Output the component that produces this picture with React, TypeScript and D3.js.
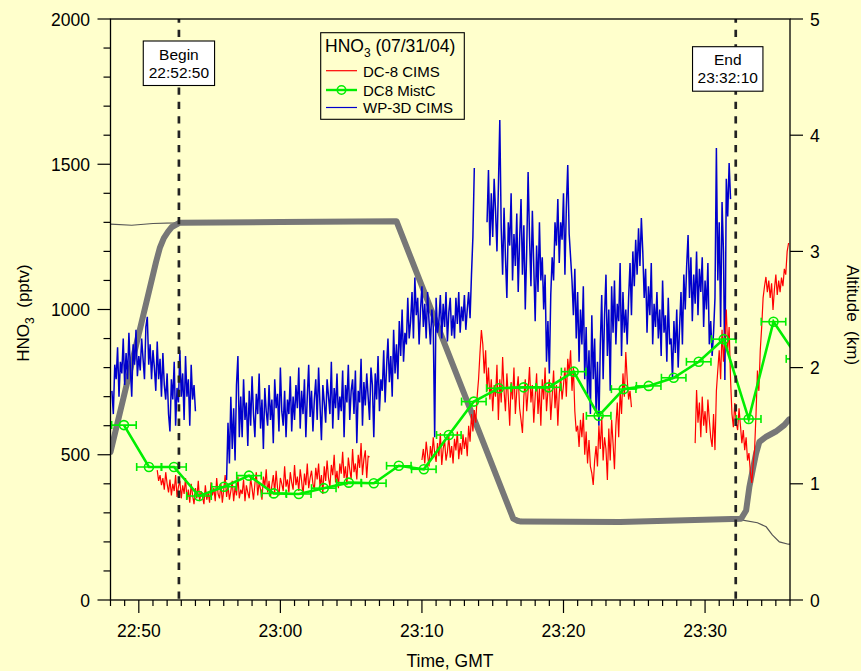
import React from "react";
import * as d3 from "d3";

// Canvas and plot frame
const W = 861;
const H = 671;
const PLOT = { left: 110.5, right: 790, top: 19, bottom: 600 };
const BG = "#FFFFCC";
const FONT = "'Liberation Sans', Arial, Helvetica, sans-serif";

// Time axis range (GMT, 07/31/04)
const timeDomain = ["22:48:00", "23:36:00"];
const sampleStepSec = 6;

// WP-3D CIMS HNO3 (pptv), 6 s samples, three continuous segments
const wp3dStart1 = "22:48:06";
const wp3d1 = [
  720, 640, 810, 760, 870, 700, 820, 780, 900, 740,
  850, 760, 920, 800, 700, 880, 810, 930, 770, 840,
  790, 900, 830, 760, 940, 975, 810, 880, 760, 860,
  800, 720, 890, 760, 830, 700, 850, 740, 690, 780,
  640, 580, 760, 690, 820, 600, 730, 680, 860, 700,
  780, 620, 840, 700, 760, 600, 810, 690, 740, 650,
];
const wp3dStart2 = "22:56:12";
const wp3d2 = [
  413, 610, 470, 700, 520, 660, 480, 740, 840, 560,
  700, 560, 760, 620, 680, 530, 720, 600, 770, 640,
  560, 710, 640, 780, 590, 690, 520, 730, 650, 600,
  740, 620, 690, 540, 760, 660, 710, 580, 800, 650,
  600, 720, 560, 690, 640, 770, 580, 700, 620, 740,
  660, 800, 590, 720, 640, 760, 560, 700, 810, 630,
  720, 580, 690, 760, 620, 800, 670, 550, 740, 680,
  610, 760, 700, 640, 820, 590, 730, 660, 780, 620,
  700, 650, 790, 560, 740, 680, 810, 620, 720, 760,
  640, 790, 540, 720, 680, 830, 600, 750, 670, 780,
  700, 620, 800, 740, 560, 780, 690, 840, 650, 760,
  720, 860, 680, 800, 900, 750, 840, 700, 930, 780,
  880, 760, 960, 840, 1000, 820, 920, 880, 1040, 900,
  960, 1060, 900, 1110, 980, 1040, 880, 1000, 1080, 940,
  1020, 900, 1060, 960, 880, 1000, 940, 560, 1040, 920,
  960, 1050, 900, 1020, 940, 1060, 890, 990, 1040, 910,
  980, 900, 1040, 950, 1060, 920, 1010, 960, 1050, 930,
  1000, 1060, 970, 1120, 1250, 1487,
];
const wp3dStart3 = "23:14:36";
const wp3d3 = [
  1300, 1480, 1220, 1400, 1250, 1450, 1340, 1200, 1420, 1652,
  1280, 1120, 1350, 1180, 1040, 1300, 1220, 1400, 1100, 1260,
  1150, 1330, 1060, 1240, 1380, 1120, 1290, 1000, 1200, 1473,
  1250, 1080, 1340, 1150, 960, 1220, 1060, 1300, 1100, 1180,
  1000, 1120, 820, 960, 780, 1050, 1180, 1100, 1300, 1220,
  1380, 1160, 1300, 1240, 1400, 1120, 1350, 1497, 1260, 1180,
  1100, 980, 1140, 900, 1060, 820, 1000, 880, 1080, 760,
  940, 700, 860, 640, 980, 760, 900, 650, 820, 600,
  880, 1050, 760, 980, 1120, 840, 1000, 720, 1080, 920,
  1100, 880, 1020, 960, 1160, 840, 1060, 920, 1000, 880,
  1040, 1160, 980, 1200, 1080, 1240, 1120, 1280, 1150, 1315,
  1200, 1040, 1140, 920, 1080, 980, 1160, 880, 1020, 940,
  1060, 900, 1000, 840, 1100, 920, 980, 820, 1040, 880,
  900, 760, 960, 850, 1000, 800, 940, 1060, 880, 1120,
  1000, 1150, 1256, 1040, 1180, 960, 1120, 1020, 1200, 980,
  1140, 1060, 1180, 940, 1100, 1000, 1160, 880, 960, 840,
  920, 1040, 1556, 1100, 1300, 940, 1370, 1200, 757, 1450,
  1320, 1504, 1380,
];

// DC-8 CIMS HNO3 (pptv), 6 s samples, three continuous segments
const dc8Start1 = "22:51:18";
const dc81 = [
  447, 410, 430, 395, 420, 380, 440, 400, 370, 415,
  360, 400, 375, 430, 355, 390, 410, 350, 395, 365,
  420, 345, 380, 335, 400, 360, 330, 385, 350, 410,
  340, 375, 355, 330, 395, 345, 370, 335, 405, 360,
  385, 340, 420, 365, 350, 400, 335, 380, 430, 355,
  395, 345, 375, 410, 340, 390, 360, 425, 350, 380,
  365, 415, 340, 395, 370, 350, 420, 385, 345, 400,
  440, 360, 405, 380, 345, 425, 390, 450, 370, 410,
  355, 395, 430, 370, 445, 385, 360, 420, 400, 375,
  460, 390, 415, 370, 440, 405, 380, 465, 395, 425,
  375, 450, 410, 360, 435, 395, 470, 385, 420, 445,
  400, 380, 455, 415, 470, 390, 430, 365, 460, 410,
  480, 420, 390, 465, 430, 500, 405, 445, 385, 470,
  435, 510, 420, 460, 395, 490, 450, 415, 520, 440,
  470, 415, 500, 455, 540, 430, 485, 515, 420, 495,
  492,
];
const dc8Start2 = "23:10:00";
const dc82 = [
  482, 520, 470, 545, 500, 460, 530, 490, 560, 505,
  475, 540, 495, 575, 465, 520, 550, 480, 510, 565,
  490, 530, 470, 555, 515, 580, 485, 540, 500, 570,
  520, 560, 495, 600, 545, 640, 580, 654, 610, 700,
  760, 850, 929, 880, 780, 860, 720, 800, 690, 760,
  650, 740, 700, 810, 620, 760, 680, 836, 720, 650,
  780, 700, 600, 750, 690, 800, 640, 720, 770, 660,
  620, 575, 700, 760, 650, 720, 802, 680, 740, 610,
  700, 780, 640, 730, 600, 760, 690, 800, 650, 720,
  760, 620, 700, 790, 660, 740, 600, 710, 770, 690,
  740, 800, 700, 830, 780, 860, 720, 800, 650, 580,
  600, 527, 620, 560, 644, 500, 580, 470, 551, 460,
  437, 396, 480, 530, 460, 600, 520, 630, 480, 560,
  520, 413, 590, 480, 620, 540, 450, 600, 680, 560,
  720, 640, 780, 700, 854, 760, 690, 720, 664,
];
const dc8Start3 = "23:29:18";
const dc83 = [
  540, 723, 610, 680, 560, 700, 600, 650, 575, 690,
  620, 560, 527, 640, 516, 720, 792, 860, 760, 930,
  820, 900, 1000, 860, 940, 760, 640, 595, 678, 610,
  585, 660, 600, 540, 585, 516, 560, 480, 506, 440,
  403, 470, 520, 640, 790, 720, 860, 940, 1040, 1080,
  1112, 1060, 1100, 1040, 1090, 998, 1070, 1120, 1050, 1100,
  1060, 1110, 1080, 1140, 1120, 1200, 1229,
];

// DC8 MistC HNO3 (pptv): sample midpoints and integration half-width
const mistcTimes = [
  "22:48:57", "22:50:43", "22:52:29", "22:54:15", "22:56:01", "22:57:47",
  "22:59:32", "23:01:18", "23:03:04", "23:04:50", "23:06:36", "23:08:22",
  "23:10:08", "23:11:54", "23:13:40", "23:15:26", "23:17:11", "23:18:57",
  "23:20:43", "23:22:29", "23:24:15", "23:26:01", "23:27:47", "23:29:33",
  "23:31:19", "23:33:05", "23:34:50", "23:36:36",
];
const mistcValues = [
  602, 458, 458, 358, 390, 428, 367, 365, 385, 404, 402, 462,
  450, 568, 683, 729, 732, 732, 786, 634, 726, 737, 765, 820,
  898, 623, 958, 830,
];
const mistcHalfWidthSec = 52;

// DC-8 altitude (km)
const dc8AltTimes = [
  "22:48:00", "22:51:13", "22:51:29", "22:51:46", "22:52:04", "22:52:20",
  "22:52:54", "23:00:00", "23:08:12", "23:16:27", "23:16:45", "23:17:00",
  "23:24:00", "23:32:33", "23:32:54", "23:33:08", "23:33:22", "23:33:36",
  "23:33:50", "23:34:19", "23:35:00", "23:35:36", "23:35:57",
];
const dc8AltKm = [
  1.274, 2.909, 3.03, 3.115, 3.17, 3.21,
  3.247, 3.252, 3.26, 0.70, 0.682, 0.675,
  0.672, 0.70, 0.77, 0.975, 1.12, 1.26,
  1.36, 1.405, 1.45, 1.506, 1.555,
];

// WP-3D altitude (km)
const p3AltTimes = [
  "22:48:00", "22:49:30", "22:51:00", "22:52:30", "22:53:00", "23:08:12",
  "23:16:27", "23:17:00", "23:32:33", "23:33:42", "23:34:19", "23:34:45",
  "23:35:15", "23:35:53", "23:36:00",
];
const p3AltKm = [
  3.235, 3.225, 3.24, 3.245, 3.25, 3.26,
  0.70, 0.675, 0.69, 0.665, 0.63, 0.56,
  0.50, 0.48, 0.48,
];

// Flight-leg markers
const legMarkers = [
  { label: "Begin", time: "22:52:50", boxShift: 0 },
  { label: "End", time: "23:32:10", boxShift: -8 },
];

const hnoTicks = { max: 2000, minorStep: 100, majorStep: 500 };
const altTicks = [0, 1, 2, 3, 4, 5];

const toDate = (hms: string) => {
  const [h, m, s] = hms.split(":").map(Number);
  return new Date(Date.UTC(2004, 6, 31, h, m, s || 0));
};

type Pt = { t: Date; v: number };
const sampled = (start: string, vals: number[]): Pt[] => {
  const t0 = toDate(start).getTime();
  return vals.map((v, i) => ({ t: new Date(t0 + i * sampleStepSec * 1000), v }));
};
const paired = (times: string[], vals: number[]): Pt[] =>
  times.map((t, i) => ({ t: toDate(t), v: vals[i] }));

export default function App() {
  const x = d3
    .scaleUtc()
    .domain(timeDomain.map(toDate))
    .range([PLOT.left, PLOT.right]);
  const y = d3.scaleLinear().domain([0, hnoTicks.max]).range([PLOT.bottom, PLOT.top]);
  const yAlt = d3.scaleLinear().domain([0, 5]).range([PLOT.bottom, PLOT.top]);

  const hnoLine = d3
    .line<Pt>()
    .x((d) => x(d.t))
    .y((d) => y(d.v));
  const altLine = d3
    .line<Pt>()
    .x((d) => x(d.t))
    .y((d) => yAlt(d.v));

  const wp3dSegs = [
    sampled(wp3dStart1, wp3d1),
    sampled(wp3dStart2, wp3d2),
    sampled(wp3dStart3, wp3d3),
  ];
  const dc8Segs = [
    sampled(dc8Start1, dc81),
    sampled(dc8Start2, dc82),
    sampled(dc8Start3, dc83),
  ];
  const mistc = paired(mistcTimes, mistcValues);
  const dc8Alt = paired(dc8AltTimes, dc8AltKm);
  const p3Alt = paired(p3AltTimes, p3AltKm);

  const minuteTicks = x.ticks(d3.utcMinute.every(1) as any);
  const fmt = d3.utcFormat("%H:%M");
  const hnoTickVals = d3.range(0, hnoTicks.max + 1, hnoTicks.minorStep);

  const axisColor = "#000";

  return (
    <svg
      width={W}
      height={H}
      viewBox={`0 0 ${W} ${H}`}
      style={{ position: "absolute", left: 0, top: 0, display: "block" }}
      fontFamily={FONT}
    >
      <defs>
        <clipPath id="plotClip">
          <rect
            x={PLOT.left}
            y={PLOT.top}
            width={PLOT.right - PLOT.left}
            height={PLOT.bottom - PLOT.top}
          />
        </clipPath>
      </defs>
      <rect x={0} y={0} width={W} height={H} fill={BG} />

      <g clipPath="url(#plotClip)">
        {/* altitude traces */}
        <path d={altLine(p3Alt) || ""} fill="none" stroke="#555" strokeWidth={1.2} />
        <path
          d={altLine(dc8Alt) || ""}
          fill="none"
          stroke="#777"
          strokeWidth={6}
          strokeLinecap="round"
          strokeLinejoin="round"
        />

        {/* WP-3D CIMS */}
        {wp3dSegs.map((s, i) => (
          <path key={`b${i}`} d={hnoLine(s) || ""} fill="none" stroke="#0000CC" strokeWidth={1.5} />
        ))}

        {/* DC-8 CIMS */}
        {dc8Segs.map((s, i) => (
          <path key={`r${i}`} d={hnoLine(s) || ""} fill="none" stroke="#FF0000" strokeWidth={1.2} />
        ))}

        {/* DC8 MistC */}
        <path d={hnoLine(mistc) || ""} fill="none" stroke="#00EE00" strokeWidth={2.6} />
        {mistc.map((d, i) => {
          const x0 = x(new Date(d.t.getTime() - mistcHalfWidthSec * 1000));
          const x1 = x(new Date(d.t.getTime() + mistcHalfWidthSec * 1000));
          const yy = y(d.v);
          return (
            <g key={`g${i}`} stroke="#00EE00" strokeWidth={1.6} fill="none">
              <line x1={x0} x2={x1} y1={yy} y2={yy} />
              <line x1={x0} x2={x0} y1={yy - 4} y2={yy + 4} />
              <line x1={x1} x2={x1} y1={yy - 4} y2={yy + 4} />
              <circle cx={x(d.t)} cy={yy} r={4.5} />
            </g>
          );
        })}
      </g>

      {/* flight-leg boundaries */}
      {legMarkers.map((m) => {
        const xx = x(toDate(m.time));
        return (
          <line
            key={m.label}
            x1={xx}
            x2={xx}
            y1={PLOT.top}
            y2={PLOT.bottom}
            stroke="#222"
            strokeWidth={2.7}
            strokeDasharray="7.3 7.1"
            strokeDashoffset={3.6}
          />
        );
      })}

      {/* frame */}
      <rect
        x={PLOT.left}
        y={PLOT.top}
        width={PLOT.right - PLOT.left}
        height={PLOT.bottom - PLOT.top}
        fill="none"
        stroke={axisColor}
        strokeWidth={1.3}
      />

      {/* time axis */}
      {minuteTicks.map((t) => {
        const major = t.getUTCMinutes() % 10 === 0;
        const xx = x(t);
        return (
          <g key={t.getTime()}>
            <line
              x1={xx}
              x2={xx}
              y1={PLOT.bottom}
              y2={PLOT.bottom + (major ? 13 : 6)}
              stroke={axisColor}
              strokeWidth={1.2}
            />
            {major && (
              <text x={xx} y={637} textAnchor="middle" fontSize={17.5} fill="#000">
                {fmt(t)}
              </text>
            )}
          </g>
        );
      })}
      <text x={450} y={667} textAnchor="middle" fontSize={17.5} fill="#000">
        Time, GMT
      </text>

      {/* HNO3 axis */}
      {hnoTickVals.map((v) => {
        const major = v % hnoTicks.majorStep === 0;
        const yy = y(v);
        return (
          <g key={`l${v}`}>
            <line
              x1={PLOT.left - (major ? 13 : 7)}
              x2={PLOT.left}
              y1={yy}
              y2={yy}
              stroke={axisColor}
              strokeWidth={1.2}
            />
            {major && (
              <text x={90} y={yy + 6.5} textAnchor="end" fontSize={17.5} fill="#000">
                {v}
              </text>
            )}
          </g>
        );
      })}
      <text
        transform={`translate(29, 313) rotate(-90)`}
        textAnchor="middle"
        fontSize={17}
        fill="#000"
      >
        HNO<tspan dy={5} fontSize={12}>3</tspan>
        <tspan dy={-5}>{"\u00A0 (pptv)"}</tspan>
      </text>

      {/* altitude axis */}
      {altTicks.map((v) => {
        const yy = yAlt(v);
        return (
          <g key={`a${v}`}>
            <line x1={PLOT.right} x2={PLOT.right + 13} y1={yy} y2={yy} stroke={axisColor} strokeWidth={1.2} />
            <text x={810} y={yy + 6.5} textAnchor="start" fontSize={17.5} fill="#000">
              {v}
            </text>
          </g>
        );
      })}
      <text
        transform={`translate(847, 315) rotate(90)`}
        textAnchor="middle"
        fontSize={17}
        fill="#000"
      >
        {"Altitude\u00A0 (km)"}
      </text>

      {/* leg labels */}
      {legMarkers.map((m) => {
        const xx = x(toDate(m.time)) + m.boxShift;
        const top = m.label === "Begin" ? 41 : 46.7;
        const w = m.label === "Begin" ? 71.3 : 70.4;
        return (
          <g key={`box${m.label}`}>
            <rect x={xx - w / 2} y={top} width={w} height={44.5} fill="#FFFFFF" stroke="#000" strokeWidth={1.1} />
            <text x={xx} y={top + 18.5} textAnchor="middle" fontSize={15.5} fill="#000">
              {m.label}
            </text>
            <text x={xx} y={top + 36.5} textAnchor="middle" fontSize={15.5} fill="#000">
              {m.time}
            </text>
          </g>
        );
      })}

      {/* legend */}
      <g>
        <rect x={320.7} y={32.7} width={143.6} height={86.6} fill={BG} stroke="#000" strokeWidth={1.1} />
        <text x={325} y={51.5} fontSize={17.5} fill="#000">
          HNO<tspan dy={5} fontSize={12}>3</tspan>
          <tspan dy={-5}> (07/31/04)</tspan>
        </text>
        <line x1={326} x2={357} y1={70.7} y2={70.7} stroke="#FF0000" strokeWidth={1.2} />
        <text x={363} y={76.5} fontSize={15} fill="#000">DC-8 CIMS</text>
        <line x1={326} x2={357} y1={90} y2={90} stroke="#00EE00" strokeWidth={2.4} />
        <circle cx={341.5} cy={90} r={4.2} fill="none" stroke="#00EE00" strokeWidth={1.6} />
        <text x={363} y={95.5} fontSize={15} fill="#000">DC8 MistC</text>
        <line x1={326} x2={357} y1={107.5} y2={107.5} stroke="#0000CC" strokeWidth={1.2} />
        <text x={363} y={113.3} fontSize={15} fill="#000">WP-3D CIMS</text>
      </g>
    </svg>
  );
}
